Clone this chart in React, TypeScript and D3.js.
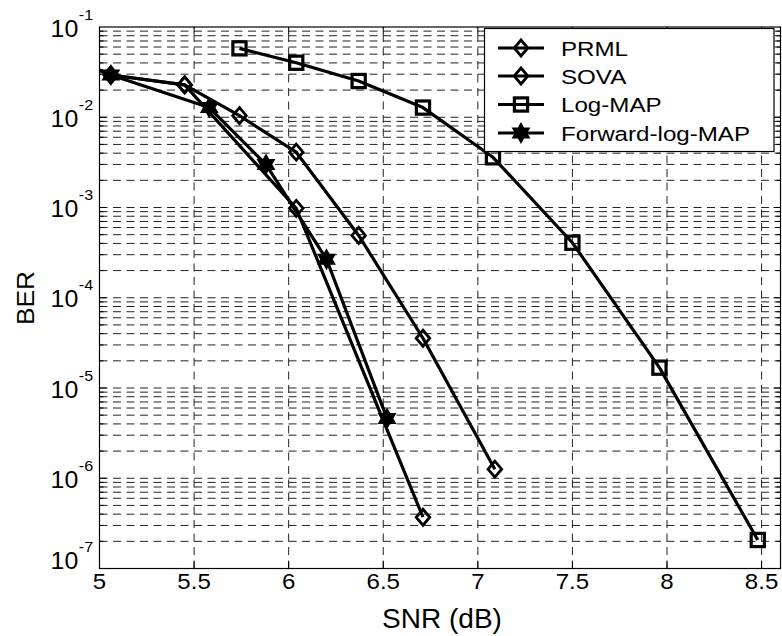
import React from "react";
import * as d3 from "d3";

// ---- data ----
const prmlSNR = [4.5, 5.06, 5.45, 6.04, 6.71];
const prmlBER = [0.09, 0.0294, 0.0228, 9.8e-4, 3.7e-7];

const sovaSNR = [4.5, 5.06, 5.45, 5.74, 6.04, 6.37, 6.71, 7.09];
const sovaBER = [0.09, 0.0294, 0.0228, 0.0104, 0.0041, 4.9e-4, 3.56e-5, 1.26e-6];

const logmapSNR = [5.74, 6.04, 6.37, 6.71, 7.08, 7.5, 7.96, 8.48];
const logmapBER = [0.058, 0.0402, 0.0252, 0.0128, 0.0036, 4.07e-4, 1.68e-5, 2.07e-7];

const fwdSNR = [4.5, 5.06, 5.58, 5.88, 6.2, 6.52];
const fwdBER = [0.09, 0.0294, 0.0128, 0.003, 2.67e-4, 4.6e-6];

const seriesNames = ["PRML", "SOVA", "Log-MAP", "Forward-log-MAP"];
const seriesMarkers = ["diamond", "diamond", "square", "hexagram"];
const xTicks = [5, 5.5, 6, 6.5, 7, 7.5, 8, 8.5];
const xTickLabels = ["5", "5.5", "6", "6.5", "7", "7.5", "8", "8.5"];
const yExponents = [-1, -2, -3, -4, -5, -6, -7];
const xLabel = "SNR (dB)";
const yLabel = "BER";

const W = 782;
const H = 636;
const L = 99.5;
const R = 780.5;
const T = 27;
const B = 568.5;
const FONT = "'Liberation Sans', Arial, Helvetica, sans-serif";

const x = d3.scaleLinear().domain([5, 8.6]).range([L, R]);
const y = d3.scaleLog().domain([1e-7, 1e-1]).range([B, T]);

function hexagramPath(R0: number) {
  const r0 = R0 / Math.sqrt(3);
  const pts: [number, number][] = [];
  for (let k = 0; k < 12; k++) {
    const a = -Math.PI / 2 + (k * Math.PI) / 6;
    const rr = k % 2 === 0 ? R0 : r0;
    pts.push([rr * Math.cos(a), rr * Math.sin(a)]);
  }
  return "M" + pts.map((p) => p[0].toFixed(2) + "," + p[1].toFixed(2)).join("L") + "Z";
}

function Marker({ kind, cx, cy }: { kind: string; cx: number; cy: number }) {
  if (kind === "diamond") {
    const w = 6.8, h = 8;
    return (
      <path
        d={`M${cx},${cy - h}L${cx + w},${cy}L${cx},${cy + h}L${cx - w},${cy}Z`}
        fill="none"
        stroke="#000"
        strokeWidth={2.8}
      />
    );
  }
  if (kind === "square") {
    const s = 6.6;
    return (
      <rect x={cx - s} y={cy - s} width={2 * s} height={2 * s} fill="none" stroke="#000" strokeWidth={3.2} />
    );
  }
  return (
    <path d={hexagramPath(9.5)} transform={`translate(${cx},${cy})`} fill="#000" stroke="#000" strokeWidth={1.4} />
  );
}

function SText(props: {
  x: number;
  y: number;
  size: number;
  sx?: number;
  anchor?: string;
  rotate?: number;
  children: React.ReactNode;
}) {
  const { x: tx, y: ty, size, sx = 1, anchor = "start", rotate = 0, children } = props;
  return (
    <text
      transform={`translate(${tx},${ty}) rotate(${rotate}) scale(${sx},1)`}
      textAnchor={anchor}
      fontSize={size}
      fontFamily={FONT}
      fill="#000"
    >
      {children}
    </text>
  );
}

export default function App() {
  const series = [
    { xs: prmlSNR, ys: prmlBER },
    { xs: sovaSNR, ys: sovaBER },
    { xs: logmapSNR, ys: logmapBER },
    { xs: fwdSNR, ys: fwdBER },
  ];
  const line = d3
    .line<[number, number]>()
    .x((d) => x(d[0]))
    .y((d) => y(d[1]));

  const yGrid: number[] = [];
  for (let e = -7; e < -1; e++) {
    for (let m = 1; m <= 9; m++) {
      yGrid.push(m * Math.pow(10, e));
    }
  }
  const xGrid = xTicks.filter((v) => v > 5);

  const legX = 484.5, legY = 28.5, legW = 289.5, legH = 123;
  const rowY = [48, 76, 104.5, 133];

  return (
    <svg width={W} height={H} style={{ position: "absolute", left: 0, top: 0, background: "#fff" }}>
      <defs>
        <clipPath id="plotclip">
          <rect x={L} y={T} width={R - L} height={B - T} />
        </clipPath>
      </defs>
      <rect x={0} y={0} width={W} height={H} fill="#fff" />
      {/* grid */}
      <g stroke="#222" strokeWidth={1} strokeDasharray="8,5.5">
        {yGrid
          .filter((v) => v > 1e-7 * 1.0001)
          .map((v, i) => (
            <line key={"yg" + i} x1={L} x2={R} y1={y(v)} y2={y(v)} />
          ))}
        {xGrid.map((v, i) => (
          <line key={"xg" + i} x1={x(v)} x2={x(v)} y1={B} y2={T} />
        ))}
      </g>
      {/* ticks */}
      <g stroke="#000" strokeWidth={1}>
        {yGrid.map((v, i) => {
          const major = Math.abs(Math.log10(v) - Math.round(Math.log10(v))) < 1e-6;
          const len = major ? 7 : 4;
          return (
            <g key={"yt" + i}>
              <line x1={L} x2={L + len} y1={y(v)} y2={y(v)} />
              <line x1={R} x2={R - len} y1={y(v)} y2={y(v)} />
            </g>
          );
        })}
        {xTicks.map((v, i) => (
          <g key={"xt" + i}>
            <line x1={x(v)} x2={x(v)} y1={B} y2={B - 7} />
            <line x1={x(v)} x2={x(v)} y1={T} y2={T + 7} />
          </g>
        ))}
      </g>
      {/* curves */}
      <g clipPath="url(#plotclip)">
        {series.map((s, si) => {
          const pts = s.xs.map((xv, i) => [xv, s.ys[i]] as [number, number]);
          return (
            <g key={"s" + si}>
              <path d={line(pts) || ""} fill="none" stroke="#000" strokeWidth={3.2} strokeLinejoin="round" />
              {pts.map((p, i) => (
                <Marker key={i} kind={seriesMarkers[si]} cx={x(p[0])} cy={y(p[1])} />
              ))}
            </g>
          );
        })}
      </g>
      {/* axes box */}
      <rect x={L} y={T} width={R - L} height={B - T} fill="none" stroke="#000" strokeWidth={1.2} />
      {/* x tick labels */}
      {xTicks.map((v, i) => (
        <SText key={"xl" + i} x={x(v)} y={588.5} size={21.5} sx={1.12} anchor="middle">
          {xTickLabels[i]}
        </SText>
      ))}
      {/* y tick labels */}
      {yExponents.map((e, i) => {
        const ty = y(Math.pow(10, e)) + (e === -7 ? 0.5 : 9.5);
        return (
          <g key={"yl" + i}>
            <SText x={78.3} y={ty} size={23.5} sx={1.06} anchor="end">
              10
            </SText>
            <SText x={78.8} y={ty - 17} size={14} sx={1.15} anchor="start">
              {String(e)}
            </SText>
          </g>
        );
      })}
      {/* axis labels */}
      <SText x={442} y={628} size={28} sx={1} anchor="middle">
        {xLabel}
      </SText>
      <SText x={33.5} y={298} size={23.5} sx={1.12} anchor="middle" rotate={-90}>
        {yLabel}
      </SText>
      {/* legend */}
      <rect x={legX} y={legY} width={legW} height={legH} fill="#fff" stroke="#000" strokeWidth={1.2} />
      {seriesNames.map((name, i) => (
        <g key={"lg" + i}>
          <line x1={498} x2={544} y1={rowY[i]} y2={rowY[i]} stroke="#000" strokeWidth={3.2} />
          <Marker kind={seriesMarkers[i]} cx={521} cy={rowY[i]} />
          <SText x={561} y={rowY[i] + 7.5} size={21} sx={1.15} anchor="start">
            {name}
          </SText>
        </g>
      ))}
    </svg>
  );
}
